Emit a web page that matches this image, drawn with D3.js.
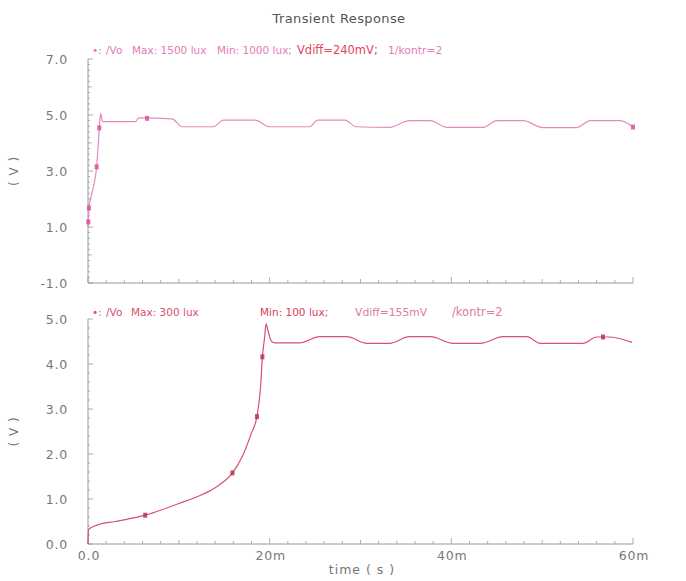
<!DOCTYPE html>
<html><head><meta charset="utf-8">
<script src="https://cdn.jsdelivr.net/npm/d3@7"></script>
<style>
html,body{margin:0;padding:0;background:#fff;}
svg{display:block;font-family:"DejaVu Sans",sans-serif;}
</style></head>
<body>
<svg id="c" width="686" height="581"></svg>
<script>
// ---- data (time in ms, voltage in V) ----
const titleText = "Transient Response";
const topTime = [0, 0.03, 0.1, 0.5, 0.95, 1.1, 1.24, 1.33, 1.42, 1.55, 1.7, 5.2, 5.6, 9.25, 10.4, 13.8, 14.9, 18.4, 20.0, 24.4, 25.3, 28.3, 29.5, 33.2, 35.4, 37.7, 39.5, 43.5, 45.0, 47.9, 50.1, 53.8, 55.3, 58.6, 60];
const topVolt = [1.0, 1.18, 1.68, 2.3, 3.15, 3.8, 4.54, 4.9, 5.05, 4.8, 4.76, 4.76, 4.9, 4.86, 4.58, 4.58, 4.82, 4.82, 4.58, 4.58, 4.82, 4.82, 4.58, 4.56, 4.8, 4.8, 4.56, 4.56, 4.8, 4.8, 4.55, 4.55, 4.8, 4.8, 4.57];
const topMarkT = [0.03, 0.1, 0.95, 1.24, 6.5, 60];
const topMarkV = [1.18, 1.68, 3.15, 4.54, 4.88, 4.57];

const botTime = [0, 0.05, 1, 3, 6.3, 8, 10, 12, 14, 15.9, 17, 18, 18.6, 19.0, 19.2, 19.45, 19.6, 19.8, 20.2, 20.6, 23.3, 25.5, 28.5, 30.7, 33.2, 35.4, 37.7, 40.2, 43.2, 45.7, 48.3, 49.8, 54.5, 56.0, 57.3, 59.9];
const botVolt = [0.0, 0.32, 0.42, 0.5, 0.64, 0.75, 0.9, 1.05, 1.25, 1.58, 1.95, 2.47, 2.83, 3.5, 4.16, 4.6, 4.89, 4.75, 4.5, 4.47, 4.47, 4.61, 4.61, 4.46, 4.46, 4.61, 4.61, 4.46, 4.46, 4.61, 4.61, 4.46, 4.46, 4.6, 4.6, 4.48];
const botMarkT = [6.3, 15.9, 18.6, 19.2, 56.7];
const botMarkV = [0.64, 1.58, 2.83, 4.16, 4.6];

const xTicks = [0, 20, 40, 60];
const xTickLabels = ["0.0", "20m", "40m", "60m"];
const topYTicks = [7, 5, 3, 1, -1];
const botYTicks = [5, 4, 3, 2, 1, 0];

const topLegend = [
  {t:"\u2022:", c:"#e67ab6", x:92, s:10.5},
  {t:"/Vo", c:"#e67ab6", x:106, s:10.5},
  {t:"Max: 1500 lux", c:"#e67ab6", x:132, s:10.5},
  {t:"Min: 1000 lux;", c:"#e67ab6", x:217, s:10.5},
  {t:"Vdiff=240mV;", c:"#e2455e", x:297, s:11.5},
  {t:"1/kontr=2", c:"#e67ab6", x:388, s:10.8}
];
const botLegend = [
  {t:"\u2022:", c:"#d9506e", x:92, s:10.5},
  {t:"/Vo", c:"#d9506e", x:106, s:10.5},
  {t:"Max: 300 lux", c:"#d9506e", x:131, s:10.5},
  {t:"Min: 100 lux;", c:"#d8405c", x:260, s:10.5},
  {t:"Vdiff=155mV", c:"#e07a9c", x:355, s:10.8},
  {t:"/kontr=2", c:"#e07a9c", x:452, s:11.5}
];

// ---- drawing ----
const svg = d3.select("#c");
const x = d3.scaleLinear().domain([0, 60]).range([88, 633]);
const yTop = d3.scaleLinear().domain([-1, 7]).range([283, 59]);
const yBot = d3.scaleLinear().domain([0, 5]).range([544, 319]);

svg.append("text").attr("x", 339).attr("y", 23).attr("text-anchor", "middle")
  .attr("font-size", 13).attr("letter-spacing", 0.4).attr("fill", "#555").text(titleText);

function panel(y, yTicks, minorStep, times, volts, mt, mv, lineColor, markColor, legend, legendY, showXLabels) {
  const g = svg.append("g");
  const axisColor = "#9a9a9a";
  const [y0, y1] = y.domain();
  g.append("line").attr("x1", x(0)).attr("x2", x(0)).attr("y1", y(y0)).attr("y2", y(y1))
    .attr("stroke", axisColor).attr("stroke-width", 1);
  g.append("line").attr("x1", x(0)).attr("x2", x(60)).attr("y1", y(y0)).attr("y2", y(y0))
    .attr("stroke", axisColor).attr("stroke-width", 1);
  const nMinor = Math.round((y1 - y0) / minorStep);
  for (let i = 0; i <= nMinor; i++) {
    const v = y0 + i * minorStep;
    const major = yTicks.some(t => Math.abs(t - v) < 1e-6);
    const mid = Math.abs(v - Math.round(v)) < 1e-6;
    g.append("line").attr("x1", x(0)).attr("x2", x(0) + (major ? 5 : (mid ? 3.5 : 2)))
      .attr("y1", y(v)).attr("y2", y(v)).attr("stroke", axisColor).attr("stroke-width", 0.8);
  }
  for (let t = 0; t <= 60; t += 2) {
    const major = t % 20 === 0;
    const mid = t % 10 === 0;
    g.append("line").attr("x1", x(t)).attr("x2", x(t)).attr("y1", y(y0))
      .attr("y2", y(y0) - (major ? 6 : (mid ? 4 : 3))).attr("stroke", axisColor).attr("stroke-width", 0.8);
  }
  g.selectAll(".yl").data(yTicks).enter().append("text")
    .attr("x", 68).attr("y", d => y(d) + 4.5).attr("text-anchor", "end")
    .attr("font-size", 12.5).attr("letter-spacing", 0.8).attr("fill", "#777")
    .text(d => d.toFixed(1));
  const mid = (y(y0) + y(y1)) / 2;
  g.append("text").attr("transform", `translate(18,${mid}) rotate(-90)`)
    .attr("text-anchor", "middle").attr("font-size", 12).attr("letter-spacing", 1).attr("fill", "#777").text("( V )");
  if (showXLabels) {
    g.selectAll(".xl").data(xTicks).enter().append("text")
      .attr("x", d => x(d) + 1).attr("y", y(y0) + 16).attr("text-anchor", "middle")
      .attr("font-size", 12.5).attr("letter-spacing", 0.8).attr("fill", "#777").text((d, i) => xTickLabels[i]);
    g.append("text").attr("x", 362).attr("y", y(y0) + 30).attr("text-anchor", "middle")
      .attr("font-size", 12.5).attr("letter-spacing", 1).attr("fill", "#777").text("time ( s )");
  }
  const pts = times.map((t, i) => [t, volts[i]]);
  g.append("path").datum(pts)
    .attr("d", d3.line().x(d => x(d[0])).y(d => y(d[1])).curve(d3.curveMonotoneX))
    .attr("fill", "none").attr("stroke", lineColor).attr("stroke-width", 1.2);
  const mp = mt.map((t, i) => [t, mv[i]]);
  g.selectAll(".mk").data(mp).enter().append("rect")
    .attr("x", d => x(d[0]) - 2).attr("y", d => y(d[1]) - 2.5).attr("width", 4).attr("height", 5)
    .attr("fill", markColor).attr("opacity", 0.85);
  legend.forEach(p => g.append("text").attr("x", p.x).attr("y", legendY)
    .attr("font-size", p.s).attr("fill", p.c).text(p.t));
}

panel(yTop, topYTicks, 0.2, topTime, topVolt, topMarkT, topMarkV, "#e68ac0", "#d9549a", topLegend, 54, false);
panel(yBot, botYTicks, 0.2, botTime, botVolt, botMarkT, botMarkV, "#d9506e", "#b8334f", botLegend, 316, true);
</script>
</body></html>
